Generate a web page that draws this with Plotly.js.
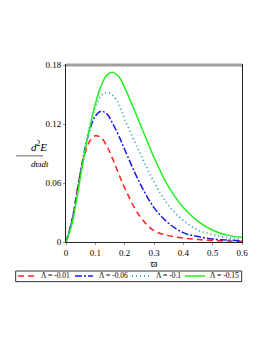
<!DOCTYPE html>
<html><head><meta charset="utf-8">
<script src="https://cdn.plot.ly/plotly-3.0.1.min.js"></script>
<style>html,body{margin:0;padding:0;background:#fff}#g{width:266px;height:344px}</style>
</head><body><div id="g"></div>
<script>
const omega = [0,0.02,0.04,0.06,0.08,0.10,0.12,0.14,0.16,0.18,0.20,0.25,0.30,0.35,0.40,0.45,0.50,0.55,0.60];
const red   = [0,0.022,0.055,0.085,0.102,0.108,0.106,0.097,0.084,0.069,0.055,0.027,0.0115,0.0065,0.004,0.0025,0.0015,0.001,0.0005];
const blue  = [0,0.021,0.055,0.088,0.113,0.128,0.133,0.130,0.120,0.108,0.094,0.061,0.035,0.019,0.0095,0.0055,0.003,0.002,0.0012];
const teal  = [0,0.020,0.053,0.087,0.116,0.137,0.149,0.152,0.149,0.140,0.125,0.092,0.061,0.037,0.022,0.012,0.0075,0.0045,0.003];
const green = [0,0.018,0.050,0.085,0.115,0.140,0.159,0.170,0.1725,0.168,0.157,0.122,0.086,0.056,0.035,0.021,0.012,0.007,0.0045];
const names = ["Λ = -0.01","Λ = -0.06","Λ = -0.1","Λ = -0.15"];
const xTicks = [0,0.1,0.2,0.3,0.4,0.5,0.6];
const yTicks = [0,0.06,0.12,0.18];

const series = [red, blue, teal, green];
const colors = ["#ff2020","#1a1adf","#3aa6a6","#22ee22"];
const dashes = ["6px,4px","7px,2px,2px,2px","1px,3px","solid"];
const widths = [1.5,1.5,2,1.5];
const traces = series.map((s,i)=>({
  x: omega, y: s, type:'scatter', mode:'lines', name: names[i], showlegend:false,
  line:{color:colors[i], width: widths[i], dash:dashes[i], shape:'spline', smoothing:1}
}));
const serif = "Liberation Serif, Times New Roman, serif";

// custom one-row legend (paper coords)
const legLine = [[-0.273,-0.165],[0.051,0.153],[0.375,0.489],[0.676,0.790]];
const legText = [-0.153,0.176,0.500,0.807];
const legY = -0.192;
const shapes = [
  {type:'line', xref:'paper', yref:'paper', x0:0, x1:1, y0:1, y1:1, line:{color:'#a0a0a0', width:3}},
  {type:'line', xref:'paper', yref:'paper', x0:-0.285, x1:-0.13, y0:0.487, y1:0.487, line:{color:'#999', width:1.5}},
  {type:'rect', xref:'paper', yref:'paper', x0:-0.286, x1:0.998, y0:-0.224, y1:-0.164, line:{color:'#333', width:1}, fillcolor:'rgba(0,0,0,0)'}
];
const annotations = [
  {xref:'paper', yref:'paper', x:-0.21, y:0.487, yanchor:'bottom', yshift:1, showarrow:false,
   text:'<i>d</i><sup>2</sup><i>E</i>', font:{family:serif, size:11, color:'#000'}},
  {xref:'paper', yref:'paper', x:-0.21, y:0.487, yanchor:'top', yshift:-1, showarrow:false,
   text:'<i>d</i>ϖ<i>dt</i>', font:{family:serif, size:9, color:'#000'}}
];
names.forEach((n,i)=>{
  shapes.push({type:'line', xref:'paper', yref:'paper', x0:legLine[i][0], x1:legLine[i][1], y0:legY, y1:legY,
    line:{color:colors[i], width:widths[i], dash:dashes[i]}});
  annotations.push({xref:'paper', yref:'paper', x:legText[i], y:legY, xanchor:'left', yanchor:'middle',
    showarrow:false, text:n, font:{family:serif, size:7.5, color:'#000'}});
});

const layout = {
  width:266, height:344,
  margin:{l:66, r:24, t:65, b:102},
  paper_bgcolor:'#fff', plot_bgcolor:'#fff',
  showlegend:false,
  xaxis:{range:[0,0.6], tickvals:xTicks, ticktext:xTicks.map(String), showgrid:false, zeroline:false,
    showline:true, linecolor:'#222', linewidth:1, mirror:true, ticks:'outside', ticklen:2, tickcolor:'#999',
    tickfont:{family:serif, size:9, color:'#000'},
    title:{text:'ϖ', font:{family:serif, size:10, color:'#000'}, standoff:0}},
  yaxis:{range:[0,0.18], tickvals:yTicks, ticktext:yTicks.map(String), showgrid:false, zeroline:false,
    showline:true, linecolor:'#222', linewidth:1, mirror:true, ticks:'outside', ticklen:2, tickcolor:'#999',
    tickfont:{family:serif, size:9, color:'#000'}},
  shapes: shapes,
  annotations: annotations
};
Plotly.newPlot('g', traces, layout, {staticPlot:true, displayModeBar:false});
</script></body></html>
